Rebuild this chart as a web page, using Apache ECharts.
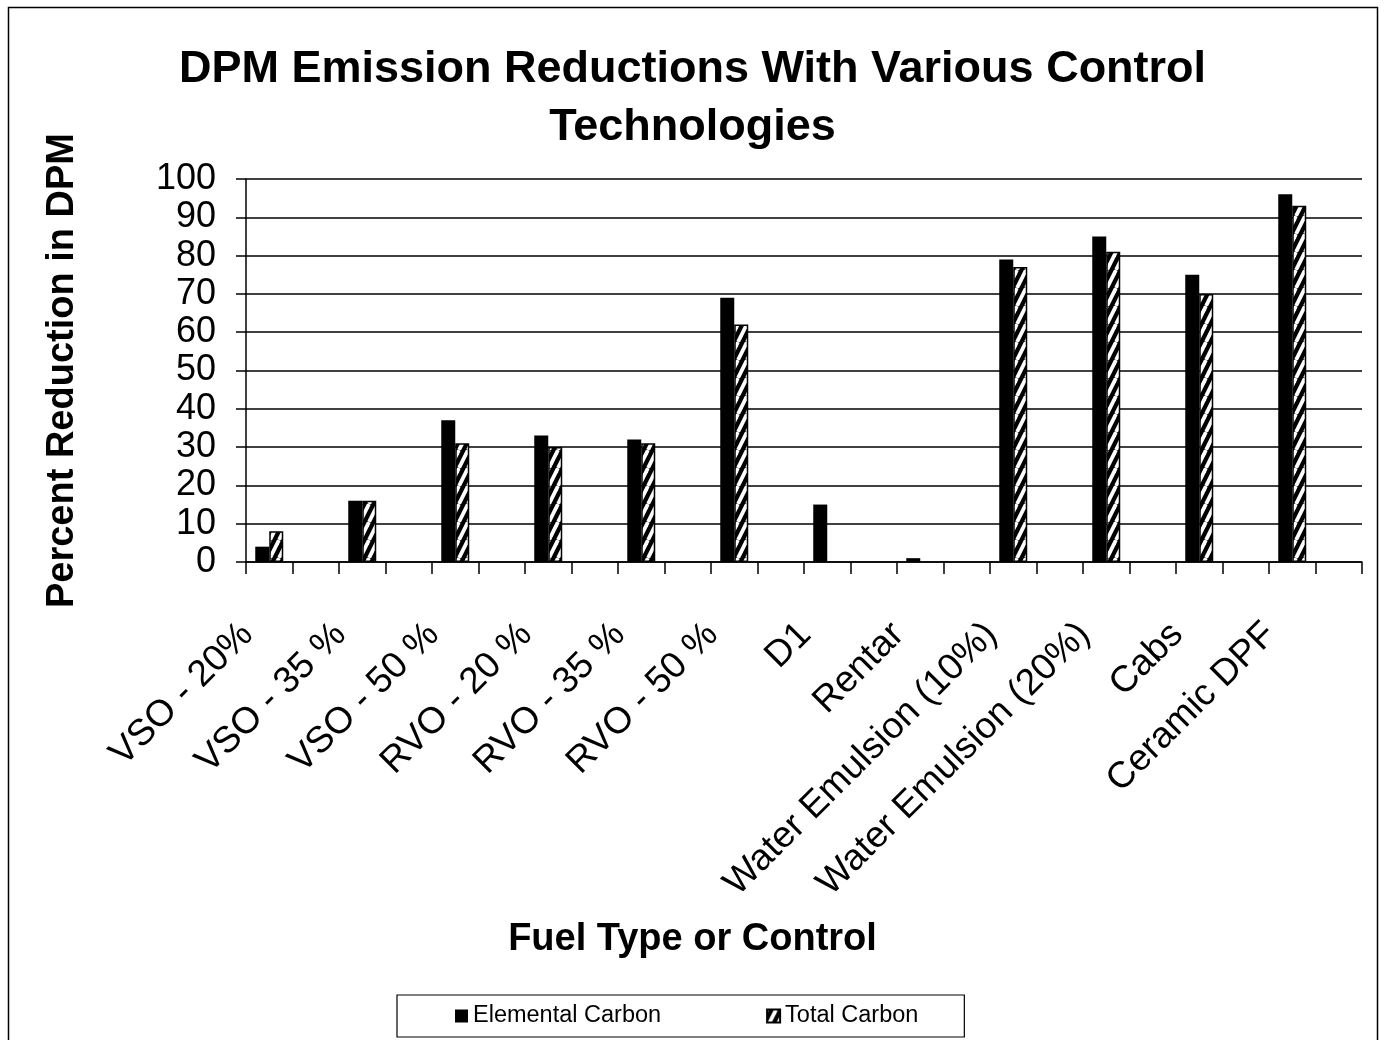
<!DOCTYPE html>
<html><head><meta charset="utf-8">
<script src="https://cdn.jsdelivr.net/npm/echarts@6/dist/echarts.min.js"></script>
<style>html,body{margin:0;padding:0;background:#fff}#c{width:1385px;height:1040px}</style>
</head><body><div id="c"></div>
<script>
const categories = ['VSO - 20%','VSO - 35 %','VSO - 50 %','RVO - 20 %','RVO - 35 %','RVO - 50 %','D1','Rentar','Water Emulsion (10%)','Water Emulsion (20%)','Cabs','Ceramic DPF'];
const elementalCarbon = [4,16,37,33,32,69,15,1,79,85,75,96];
const totalCarbon = [8,16,31,30,31,62,null,null,77,81,70,93];
const seriesNames = ['Elemental Carbon','Total Carbon'];
const yMin = 0, yMax = 100, yStep = 10;

// each labelled category is followed by an empty slot, as in the original chart
const axisCats = [], ecData = [], tcData = [];
categories.forEach((c, i) => {
  axisCats.push(c, '');
  ecData.push(elementalCarbon[i], null);
  tcData.push(totalCarbon[i], null);
});

// hatch pattern
const tile = document.createElement('canvas');
tile.width = 9; tile.height = 18;
const g = tile.getContext('2d');
g.fillStyle = '#000'; g.fillRect(0, 0, 9, 18);
g.strokeStyle = '#fff'; g.lineWidth = 3.8;
for (let k = -1; k <= 1; k++) {
  g.beginPath(); g.moveTo(k * 9, 18); g.lineTo(9 + k * 9, 0); g.stroke();
}
const hatch = { image: tile, repeat: 'repeat' };

const FONT = '"Liberation Sans", Arial, Helvetica, sans-serif';
const chart = echarts.init(document.getElementById('c'), null, { renderer: 'canvas' });
chart.setOption({
  backgroundColor: '#fff',
  animation: false,
  graphic: [{
    type: 'rect', z: -1, silent: true,
    shape: { x: 8.5, y: 7.5, width: 1369, height: 1045 },
    style: { fill: 'none', stroke: '#000', lineWidth: 1.5 }
  }],
  title: [{
    text: 'DPM Emission Reductions With Various Control\nTechnologies',
    left: 'center', top: 41, padding: 0,
    textStyle: { fontFamily: FONT, fontSize: 45, fontWeight: 'bold', color: '#000', lineHeight: 58 }
  }, {
    text: 'Fuel Type or Control',
    left: 'center', top: 921, padding: 0,
    textStyle: { fontFamily: FONT, fontSize: 38, fontWeight: 'bold', color: '#000' }
  }],
  legend: {
    data: seriesNames,
    left: 397, top: 995,
    orient: 'horizontal',
    icon: 'rect',
    borderColor: '#000', borderWidth: 1.2,
    padding: [9, 46, 9, 58],
    itemGap: 105,
    itemWidth: 13, itemHeight: 13,
    textStyle: { fontFamily: FONT, fontSize: 23.5, color: '#000' }
  },
  grid: { left: 246, right: 23, top: 179, bottom: 478, containLabel: false },
  xAxis: {
    type: 'category',
    data: axisCats,
    boundaryGap: true,
    axisLine: { show: true, lineStyle: { color: '#000', width: 1.5 } },
    axisTick: { show: true, interval: 0, length: 12, lineStyle: { color: '#000', width: 1.5 } },
    axisLabel: {
      interval: 0, rotate: 45, margin: 45,
      padding: [0, 31, 0, 0],
      fontFamily: FONT, fontSize: 37, color: '#000'
    },
    splitLine: { show: false }
  },
  yAxis: {
    type: 'value',
    min: yMin, max: yMax, interval: yStep,
    name: 'Percent Reduction in DPM',
    nameLocation: 'middle', nameGap: 164, nameRotate: 90,
    nameTextStyle: { fontFamily: FONT, fontSize: 38, fontWeight: 'bold', color: '#000' },
    axisLine: { show: true, lineStyle: { color: '#000', width: 1.5 } },
    axisTick: { show: true, length: 10, lineStyle: { color: '#000', width: 1.5 } },
    axisLabel: { margin: 30, fontFamily: FONT, fontSize: 36, color: '#000' },
    splitLine: { show: true, lineStyle: { color: '#000', width: 1.5 } }
  },
  series: [{
    name: seriesNames[0], type: 'bar', data: ecData,
    barWidth: 14, barGap: '0%',
    itemStyle: { color: '#000' }
  }, {
    name: seriesNames[1], type: 'bar', data: tcData,
    barWidth: 14,
    itemStyle: { color: hatch, borderColor: '#000', borderWidth: 1.5 }
  }]
});
</script></body></html>
